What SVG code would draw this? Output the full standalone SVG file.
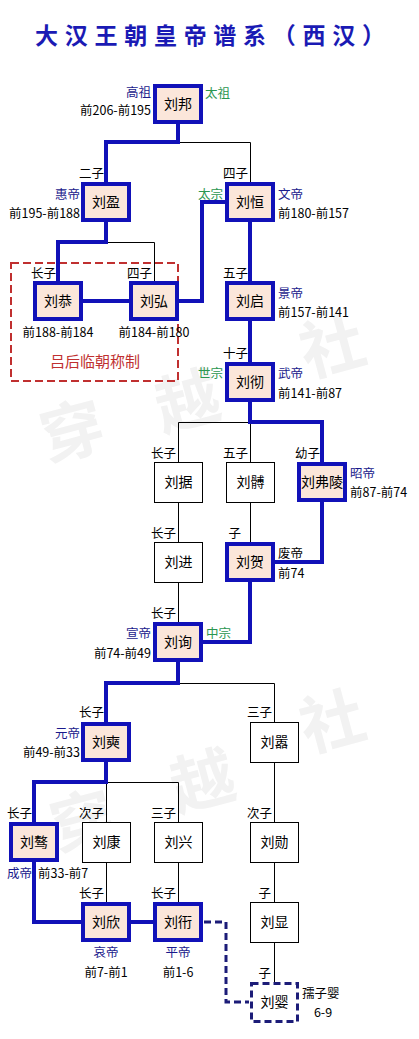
<svg xmlns="http://www.w3.org/2000/svg" width="419" height="1039" viewBox="0 0 419 1039">
<style>
text{font-family:"Noto Sans CJK SC","Liberation Sans",sans-serif;}
.wm{font-size:64px;fill:#f2f2f2;font-weight:bold;}
.title{font-size:23px;font-weight:bold;fill:#1a1ab4;}
.emp rect{fill:#fbe6da;stroke:#1111b8;stroke-width:4;}
.oth rect{fill:#fff;stroke:#000;stroke-width:1;}
.pend rect{fill:#fff;stroke:#1c1c78;stroke-width:3;stroke-dasharray:7 4;}
.nm{font-size:14px;fill:#000;text-anchor:middle;}
.lb{font-size:12.5px;fill:#000;}
.nv{fill:#1a1a8c;}
.gr{fill:#2b9650;}
.r{text-anchor:end;}
.c{text-anchor:middle;}
.thick{fill:none;stroke:#1111b8;stroke-width:4;stroke-linejoin:miter;}
.thin{fill:none;stroke:#000;stroke-width:1;}
.dash{fill:none;stroke:#1c1c78;stroke-width:3;stroke-dasharray:7 4;}
</style>
<rect width="419" height="1039" fill="#fff"/>
<g id="watermark">
<text class="wm" x="40" y="455" transform="rotate(-15 70 430)">穿</text>
<text class="wm" x="155" y="425" transform="rotate(-15 185 400)">越</text>
<text class="wm" x="300" y="370" transform="rotate(-15 330 345)">社</text>
<text class="wm" x="50" y="845" transform="rotate(-15 80 820)">穿</text>
<text class="wm" x="170" y="805" transform="rotate(-15 200 780)">越</text>
<text class="wm" x="300" y="745" transform="rotate(-15 330 720)">社</text>
</g>
<text class="title" x="35" y="44" textLength="350" lengthAdjust="spacing">大汉王朝皇帝谱系（西汉）</text>
<g id="regency">
<rect x="11" y="263" width="167" height="118" fill="none" stroke="#c03030" stroke-width="2" stroke-dasharray="8 4"/>
<text x="95" y="367" font-size="15" fill="#c03030" text-anchor="middle">吕后临朝称制</text>
</g>
<g id="connectors">
<path class="thin" d="M178,142.5 H250.5 V182"/>
<path class="thin" d="M106,242.5 H154.5 V281"/>
<path class="thin" d="M250,422.5 H178.5 V462"/>
<path class="thin" d="M250.5,422 V462"/>
<path class="thin" d="M178.5,502 V542"/>
<path class="thin" d="M250.5,502 V542"/>
<path class="thin" d="M178.5,582 V622"/>
<path class="thin" d="M178,683.5 H274.5 V722"/>
<path class="thin" d="M106,782.5 H178.5 V822"/>
<path class="thin" d="M106.5,782 V822"/>
<path class="thin" d="M274.5,762 V822"/>
<path class="thin" d="M106.5,862 V902"/>
<path class="thin" d="M178.5,862 V902"/>
<path class="thin" d="M274.5,862 V902"/>
<path class="thin" d="M274.5,942 V982"/>
<path class="thick" d="M178,124 V142 H106 V182"/>
<path class="thick" d="M106,222 V242 H58 V281"/>
<path class="thick" d="M83,301 H129"/>
<path class="thick" d="M179,301 H202 V202 H225"/>
<path class="thick" d="M250,222 V281"/>
<path class="thick" d="M250,321 V362"/>
<path class="thick" d="M250,402 V422 H322 V462"/>
<path class="thick" d="M322,502 V562 H275"/>
<path class="thick" d="M250,582 V642 H203"/>
<path class="thick" d="M178,662 V683 H106 V722"/>
<path class="thick" d="M106,762 V782 H34 V822"/>
<path class="thick" d="M34,862 V922 H81"/>
<path class="thick" d="M131,922 H153"/>
<path class="dash" d="M204,922 H226 V1002 H249"/>
</g>
<g id="n-liubang" class="emp"><rect x="155" y="86" width="46" height="36"/><text class="nm" x="178" y="109">刘邦</text></g>
<g id="n-liuying" class="emp"><rect x="83" y="184" width="46" height="36"/><text class="nm" x="106" y="207">刘盈</text></g>
<g id="n-liuheng" class="emp"><rect x="227" y="184" width="46" height="36"/><text class="nm" x="250" y="207">刘恒</text></g>
<g id="n-liugong" class="emp"><rect x="35" y="283" width="46" height="36"/><text class="nm" x="58" y="306">刘恭</text></g>
<g id="n-liuhong" class="emp"><rect x="131" y="283" width="46" height="36"/><text class="nm" x="154" y="306">刘弘</text></g>
<g id="n-liuqi" class="emp"><rect x="227" y="283" width="46" height="36"/><text class="nm" x="250" y="306">刘启</text></g>
<g id="n-liuche" class="emp"><rect x="227" y="364" width="46" height="36"/><text class="nm" x="250" y="387">刘彻</text></g>
<g id="n-liuju" class="oth"><rect x="154.5" y="462.5" width="48" height="40"/><text class="nm" x="178.5" y="487">刘据</text></g>
<g id="n-liubo" class="oth"><rect x="226.5" y="462.5" width="48" height="40"/><text class="nm" x="250.5" y="487">刘髆</text></g>
<g id="n-liufuling" class="emp"><rect x="299" y="464" width="46" height="36"/><text class="nm" x="322" y="487" font-size="13.5">刘弗陵</text></g>
<g id="n-liujin" class="oth"><rect x="154.5" y="542.5" width="48" height="40"/><text class="nm" x="178.5" y="567">刘进</text></g>
<g id="n-liuhe" class="emp"><rect x="227" y="544" width="46" height="36"/><text class="nm" x="250" y="567">刘贺</text></g>
<g id="n-liuxun" class="emp"><rect x="155" y="624" width="46" height="36"/><text class="nm" x="178" y="647">刘询</text></g>
<g id="n-liushi" class="emp"><rect x="83" y="724" width="46" height="36"/><text class="nm" x="106" y="747">刘奭</text></g>
<g id="n-liuxiao" class="oth"><rect x="250.5" y="722.5" width="48" height="40"/><text class="nm" x="274.5" y="747">刘嚣</text></g>
<g id="n-liuao" class="emp"><rect x="11" y="824" width="46" height="36"/><text class="nm" x="34" y="847">刘骜</text></g>
<g id="n-liukang" class="oth"><rect x="82.5" y="822.5" width="48" height="40"/><text class="nm" x="106.5" y="847">刘康</text></g>
<g id="n-liuxing" class="oth"><rect x="154.5" y="822.5" width="48" height="40"/><text class="nm" x="178.5" y="847">刘兴</text></g>
<g id="n-liuxun2" class="oth"><rect x="250.5" y="822.5" width="48" height="40"/><text class="nm" x="274.5" y="847">刘勋</text></g>
<g id="n-liuxin" class="emp"><rect x="83" y="904" width="46" height="36"/><text class="nm" x="106" y="927">刘欣</text></g>
<g id="n-liukan" class="emp"><rect x="155" y="904" width="46" height="36"/><text class="nm" x="178" y="927">刘衎</text></g>
<g id="n-liuxian" class="oth"><rect x="250.5" y="902.5" width="48" height="40"/><text class="nm" x="274.5" y="927">刘显</text></g>
<g id="n-liuying2" class="pend"><rect x="251.5" y="983.5" width="46" height="38"/><text class="nm" x="274.5" y="1007">刘婴</text></g>
<g id="labels" class="lb">
<text class="lb nv r" x="151" y="97">高祖</text>
<text class="lb r" x="151" y="115">前206-前195</text>
<text class="lb gr" x="205" y="98">太祖</text>
<text class="lb r" x="104" y="178">二子</text>
<text class="lb r" x="248" y="178">四子</text>
<text class="lb nv r" x="80" y="199">惠帝</text>
<text class="lb r" x="80" y="218">前195-前188</text>
<text class="lb gr r" x="223" y="199">太宗</text>
<text class="lb nv" x="278" y="199">文帝</text>
<text class="lb" x="278" y="218">前180-前157</text>
<text class="lb r" x="56" y="278">长子</text>
<text class="lb r" x="152" y="278">四子</text>
<text class="lb r" x="248" y="278">五子</text>
<text class="lb nv" x="278" y="298">景帝</text>
<text class="lb" x="278" y="317">前157-前141</text>
<text class="lb c" x="58" y="337">前188-前184</text>
<text class="lb c" x="154" y="337">前184-前180</text>
<text class="lb r" x="248" y="358">十子</text>
<text class="lb gr r" x="223" y="378">世宗</text>
<text class="lb nv" x="278" y="378">武帝</text>
<text class="lb" x="278" y="398">前141-前87</text>
<text class="lb r" x="176" y="458">长子</text>
<text class="lb r" x="248" y="458">五子</text>
<text class="lb r" x="320" y="458">幼子</text>
<text class="lb nv" x="350" y="478">昭帝</text>
<text class="lb" x="350" y="497">前87-前74</text>
<text class="lb r" x="176" y="538">长子</text>
<text class="lb r" x="241" y="538">子</text>
<text class="lb" x="278" y="558">废帝</text>
<text class="lb" x="278" y="578">前74</text>
<text class="lb r" x="176" y="618">长子</text>
<text class="lb nv r" x="151" y="638">宣帝</text>
<text class="lb gr" x="206" y="638">中宗</text>
<text class="lb r" x="151" y="658">前74-前49</text>
<text class="lb r" x="104" y="717">长子</text>
<text class="lb r" x="272" y="717">三子</text>
<text class="lb nv r" x="80" y="738">元帝</text>
<text class="lb r" x="80" y="757">前49-前33</text>
<text class="lb r" x="32" y="818">长子</text>
<text class="lb r" x="104" y="818">次子</text>
<text class="lb r" x="176" y="818">三子</text>
<text class="lb r" x="272" y="818">次子</text>
<text class="lb nv r" x="32" y="878">成帝</text>
<text class="lb" x="38" y="878">前33-前7</text>
<text class="lb r" x="104" y="898">长子</text>
<text class="lb r" x="176" y="898">长子</text>
<text class="lb r" x="271" y="898">子</text>
<text class="lb nv c" x="106" y="957">哀帝</text>
<text class="lb c" x="106" y="977">前7-前1</text>
<text class="lb nv c" x="178" y="957">平帝</text>
<text class="lb c" x="178" y="977">前1-6</text>
<text class="lb r" x="271" y="978">子</text>
<text class="lb" x="302" y="998">孺子婴</text>
<text class="lb c" x="323" y="1017">6-9</text>
</g>
</svg>
